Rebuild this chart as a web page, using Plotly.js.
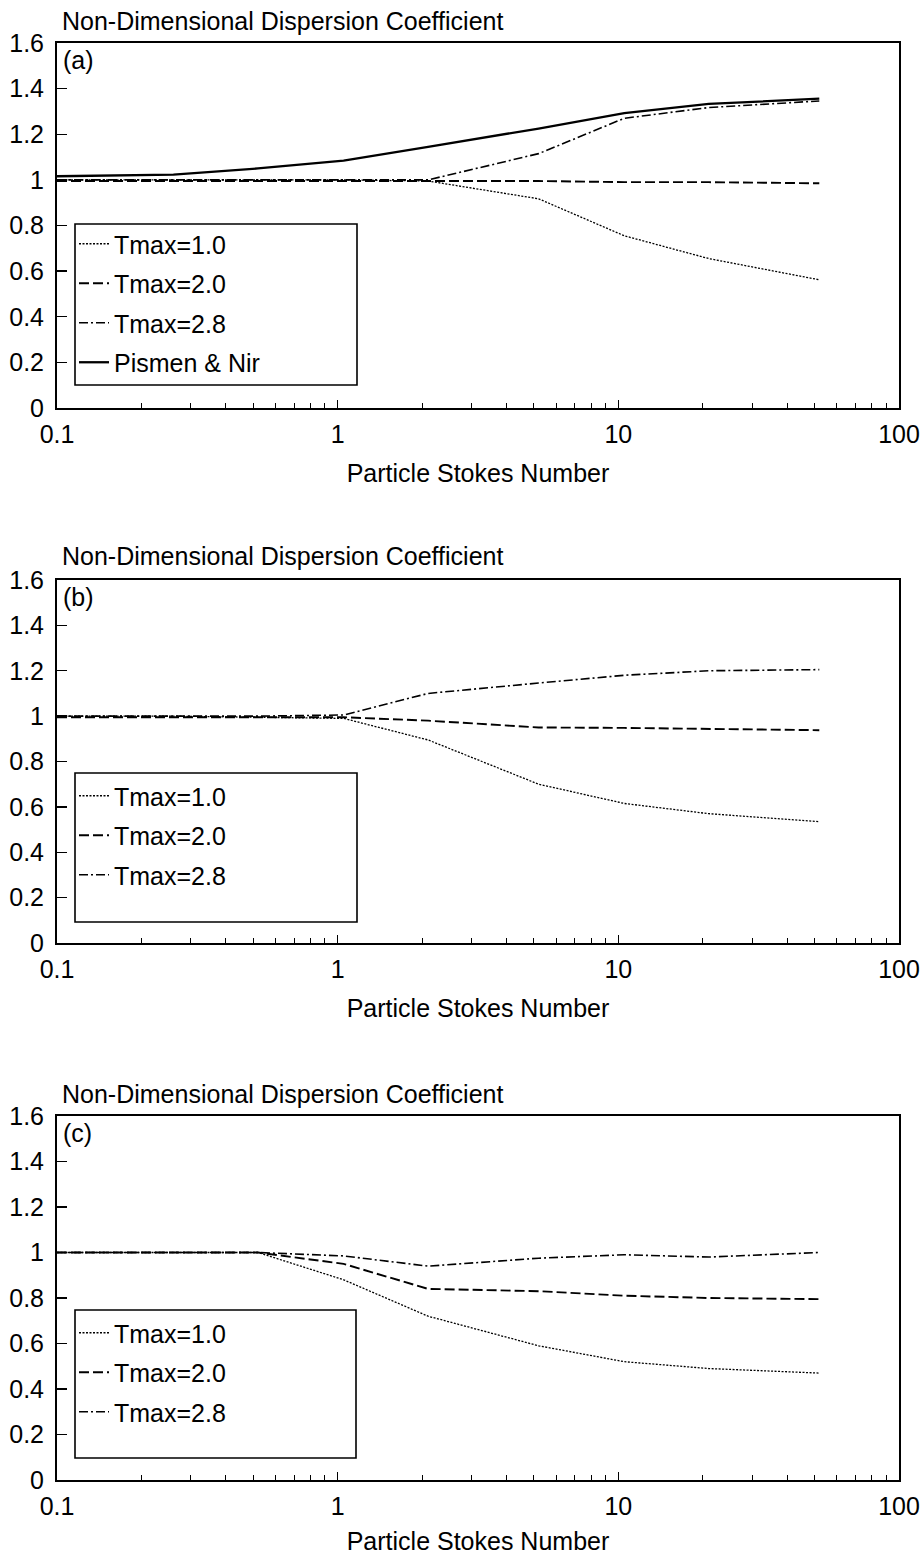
<!DOCTYPE html>
<html>
<head>
<meta charset="utf-8">
<script src="https://cdn.plot.ly/plotly-3.0.1.min.js"></script>
<style>html,body{margin:0;padding:0;background:#fff;}#chart{width:924px;height:1555px;}</style>
</head>
<body>
<div id="chart"></div>
<script>
// ---- data ----
const stokes = [0.1, 0.26, 0.52, 1.05, 2.1, 5.2, 10.5, 21, 52];

// panel (a)
const aTmax10 = [1.0, 1.0, 1.0, 1.0, 0.995, 0.917, 0.755, 0.655, 0.562];
const aTmax20 = [0.995, 0.995, 0.995, 0.995, 0.995, 0.995, 0.99, 0.99, 0.985];
const aTmax28 = [1.0, 1.0, 1.0, 1.0, 1.0, 1.115, 1.27, 1.317, 1.346];
const aPismen = [1.016, 1.023, 1.05, 1.084, 1.145, 1.225, 1.293, 1.333, 1.356];

// panel (b)
const bTmax10 = [1.0, 1.0, 0.995, 0.99, 0.895, 0.70, 0.615, 0.57, 0.535];
const bTmax20 = [0.995, 0.995, 0.995, 0.995, 0.98, 0.95, 0.948, 0.943, 0.938];
const bTmax28 = [1.0, 1.0, 1.0, 1.005, 1.10, 1.146, 1.18, 1.20, 1.205];

// panel (c)
const cTmax10 = [1.0, 1.0, 1.0, 0.88, 0.72, 0.59, 0.52, 0.49, 0.47];
const cTmax20 = [1.0, 1.0, 1.0, 0.95, 0.84, 0.83, 0.81, 0.80, 0.795];
const cTmax28 = [1.0, 1.0, 1.0, 0.985, 0.94, 0.975, 0.99, 0.98, 1.0];

const seriesNames = ["Tmax=1.0", "Tmax=2.0", "Tmax=2.8", "Pismen &amp; Nir"];
const panelLabels = ["(a)", "(b)", "(c)"];
const yTitleText = "Non-Dimensional Dispersion Coefficient";
const xTitleText = "Particle Stokes Number";
const xTickVals = [0.1, 1, 10, 100];
const xTickText = ["0.1", "1", "10", "100"];
const xMinorVals = [0.2,0.3,0.4,0.5,0.6,0.7,0.8,0.9,2,3,4,5,6,7,8,9,20,30,40,50,60,70,80,90];
const yTickVals = [0, 0.2, 0.4, 0.6, 0.8, 1, 1.2, 1.4, 1.6];
const yTickText = ["0", "0.2", "0.4", "0.6", "0.8", "1", "1.2", "1.4", "1.6"];

// ---- styles ----
const FONT = "Liberation Sans, Arial, Helvetica, sans-serif";
const FS = 25;
const styles = [
  {color: "#000", width: 1.3, dash: "2px,1.5px"},
  {color: "#000", width: 1.9, dash: "10px,4px"},
  {color: "#000", width: 1.6, dash: "9px,3px,2px,3px"},
  {color: "#000", width: 2.3, dash: "solid"}
];

const panels = [
  {series: [aTmax10, aTmax20, aTmax28, aPismen], xa: "x", ya: "y", legend: "legend"},
  {series: [bTmax10, bTmax20, bTmax28], xa: "x2", ya: "y2", legend: "legend2"},
  {series: [cTmax10, cTmax20, cTmax28], xa: "x3", ya: "y3", legend: "legend3"}
];

const traces = [];
panels.forEach((p, pi) => {
  p.series.forEach((vals, si) => {
    traces.push({
      type: "scatter", mode: "lines",
      x: stokes, y: vals,
      xaxis: p.xa, yaxis: p.ya,
      name: seriesNames[si],
      legend: p.legend,
      legendgroup: "p" + pi + "s" + si,
      line: styles[si],
      hoverinfo: "skip"
    });
  });
});

const W = 924, H = 1555;
const M = {l: 57, r: 25, t: 43, b: 75};
const plotH = H - M.t - M.b;
function py(pix) { return (H - M.b - pix) / plotH; }
function px(pix) { return (pix - M.l) / (W - M.l - M.r); }

const domains = [
  [py(408), 1],
  [py(943), py(580)],
  [0, py(1116)]
];

function xAxis(anchor) {
  return {
    type: "log", range: [-1, 2], anchor: anchor,
    tickmode: "array", tickvals: xTickVals, ticktext: xTickText,
    ticks: "inside", ticklen: 8, tickwidth: 1.3, tickcolor: "#000",
    minor: {tickmode: "array", tickvals: xMinorVals, ticks: "inside", ticklen: 5, tickwidth: 1, tickcolor: "#000", showgrid: false},
    showline: true, linecolor: "#000", linewidth: 2, mirror: true,
    showgrid: false, zeroline: false,
    tickfont: {family: FONT, size: FS, color: "#000"},
    ticklabelstandoff: 3,
    title: {text: xTitleText, font: {family: FONT, size: FS, color: "#000"}, standoff: 17},
    fixedrange: true
  };
}
function yAxis(anchor, dom) {
  return {
    range: [0, 1.6], domain: dom, anchor: anchor,
    tickmode: "array", tickvals: yTickVals, ticktext: yTickText,
    ticks: "inside", ticklen: 10, tickwidth: 1.3, tickcolor: "#000",
    showline: true, linecolor: "#000", linewidth: 2, mirror: true,
    showgrid: false, zeroline: false,
    tickfont: {family: FONT, size: FS, color: "#000"},
    ticklabelstandoff: 6,
    fixedrange: true
  };
}

function legendAt(x, y) {
  return {
    x: x, y: y, xanchor: "left", yanchor: "top",
    bgcolor: "rgba(0,0,0,0)", borderwidth: 0,
    font: {family: FONT, size: FS, color: "#000"},
    traceorder: "grouped", tracegroupgap: 4,
    itemwidth: 30
  };
}

// legend frames [left, top, right, bottom] in page pixels
const legendBoxes = [[75, 224, 357, 385], [75, 773, 357, 922], [75, 1310, 356, 1458]];
const shapes = legendBoxes.map(b => ({
  type: "rect", xref: "paper", yref: "paper", layer: "above",
  x0: px(b[0]), x1: px(b[2]), y0: py(b[3]), y1: py(b[1]),
  line: {color: "#000", width: 1.6}, fillcolor: "rgba(0,0,0,0)"
}));

const titleShift = [6, 8, 6];
const annotations = [];
["y", "y2", "y3"].forEach((ya, i) => {
  const xa = ["x", "x2", "x3"][i];
  annotations.push({
    xref: xa + " domain", yref: ya + " domain", x: 0.005, y: 0.998,
    xanchor: "left", yanchor: "top", showarrow: false,
    text: panelLabels[i], font: {family: FONT, size: FS, color: "#000"}
  });
  annotations.push({
    xref: xa + " domain", yref: ya + " domain", x: 0.004, y: 1,
    xanchor: "left", yanchor: "bottom", yshift: titleShift[i], showarrow: false,
    text: yTitleText, font: {family: FONT, size: FS, color: "#000"}
  });
});

const layout = {
  width: W, height: H,
  margin: M,
  paper_bgcolor: "#fff", plot_bgcolor: "#fff",
  showlegend: true,
  xaxis: xAxis("y"), xaxis2: xAxis("y2"), xaxis3: xAxis("y3"),
  yaxis: yAxis("x", domains[0]), yaxis2: yAxis("x2", domains[1]), yaxis3: yAxis("x3", domains[2]),
  legend: legendAt(px(74), py(221)),
  legend2: legendAt(px(74), py(773)),
  legend3: legendAt(px(74), py(1310)),
  shapes: shapes,
  annotations: annotations
};

Plotly.newPlot("chart", traces, layout, {displayModeBar: false, staticPlot: true});
</script>
</body>
</html>
